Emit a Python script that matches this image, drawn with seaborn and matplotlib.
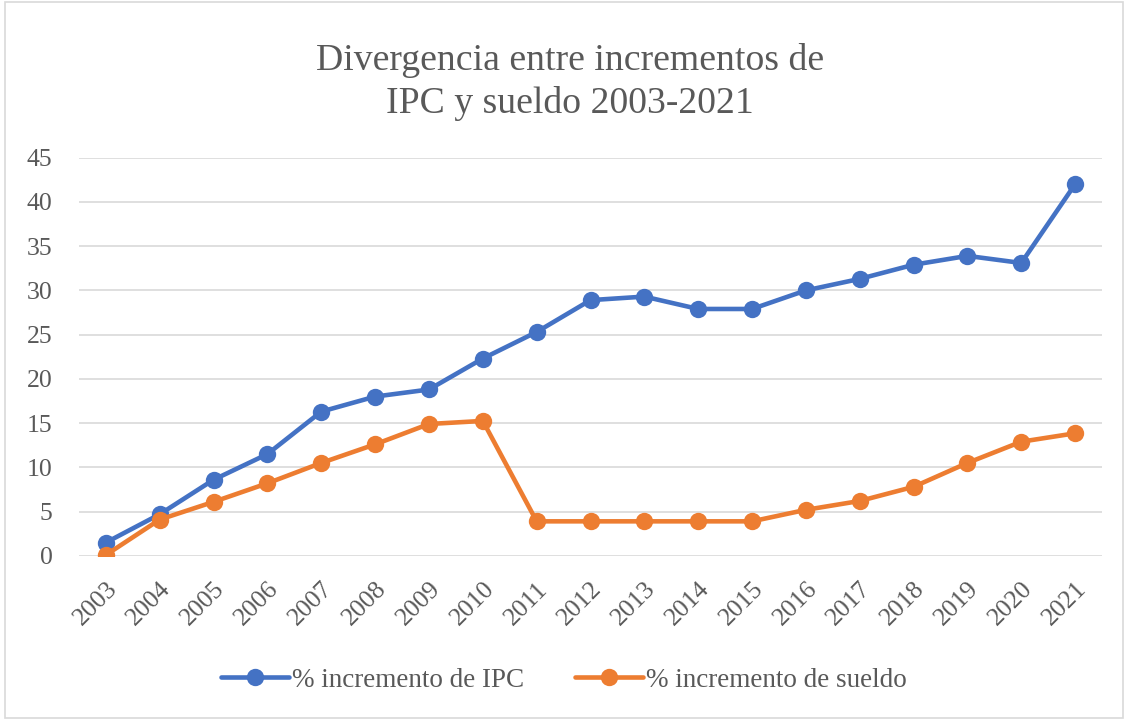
import matplotlib
matplotlib.use("Agg")
import matplotlib.pyplot as plt
import seaborn as sns
import pandas as pd
from matplotlib.patches import Rectangle

years = [str(y) for y in range(2003, 2022)]
ipc = [1.5, 4.7, 8.6, 11.5, 16.3, 18.0, 18.8, 22.3, 25.3, 28.9, 29.3, 27.9, 27.9,
       30.0, 31.3, 32.9, 33.9, 33.1, 42.0]
sueldo = [0.1, 4.1, 6.1, 8.2, 10.5, 12.6, 14.9, 15.25, 3.9, 3.9, 3.9, 3.9, 3.9,
          5.2, 6.2, 7.8, 10.5, 12.9, 13.85]
series_names = ["% incremento de IPC", "% incremento de sueldo"]
colors = ["#4472C4", "#ED7D31"]
title = "Divergencia entre incrementos de\nIPC y sueldo 2003-2021"

df = pd.DataFrame({
    "year": years * 2,
    "value": ipc + sueldo,
    "series": [series_names[0]] * len(years) + [series_names[1]] * len(years),
})

sns.set_style("white")
plt.rcParams["font.family"] = ["Liberation Serif", "DejaVu Serif"]
text_color = "#595959"

fig = plt.figure(figsize=(11.28, 7.2), dpi=100)
ax = fig.add_axes([0.070, 0.228, 0.907, 0.553])

sns.lineplot(data=df, x="year", y="value", hue="series", palette=colors,
             marker="o", markersize=12.5, markeredgewidth=0, linewidth=3.3,
             sort=False, ax=ax, legend=True)

ax.set_xlim(-0.5, len(years) - 0.5)
ax.set_ylim(0, 45)
ax.set_yticks(range(0, 46, 5))
ax.grid(axis="y", color="#D9D9D9", linewidth=1.2)
ax.set_axisbelow(True)
for s in ax.spines.values():
    s.set_visible(False)
ax.set_xlabel("")
ax.set_ylabel("")
ax.tick_params(axis="both", length=0, labelsize=18.5, colors=text_color)
ax.tick_params(axis="y", pad=19)
ax.tick_params(axis="x", pad=16)
for lbl in ax.get_xticklabels():
    lbl.set_rotation(45)
    lbl.set_ha("right")
    lbl.set_rotation_mode("anchor")

handles, labels = ax.get_legend_handles_labels()
ax.legend_.remove()
fig.legend(handles, labels, loc="center", bbox_to_anchor=(0.5, 0.055), ncol=2,
           frameon=False, fontsize=19.5, labelcolor=text_color, handlelength=2.5,
           columnspacing=1.9, handletextpad=0.1)

fig.text(0.505, 0.886, title, ha="center", va="center", fontsize=27.2,
         color=text_color, linespacing=1.3)

fig.patches.append(Rectangle((0.004, 0.003), 0.992, 0.994, transform=fig.transFigure,
                             fill=False, edgecolor="#D9D9D9", linewidth=1.2))

fig.savefig("out.png", dpi=100)
